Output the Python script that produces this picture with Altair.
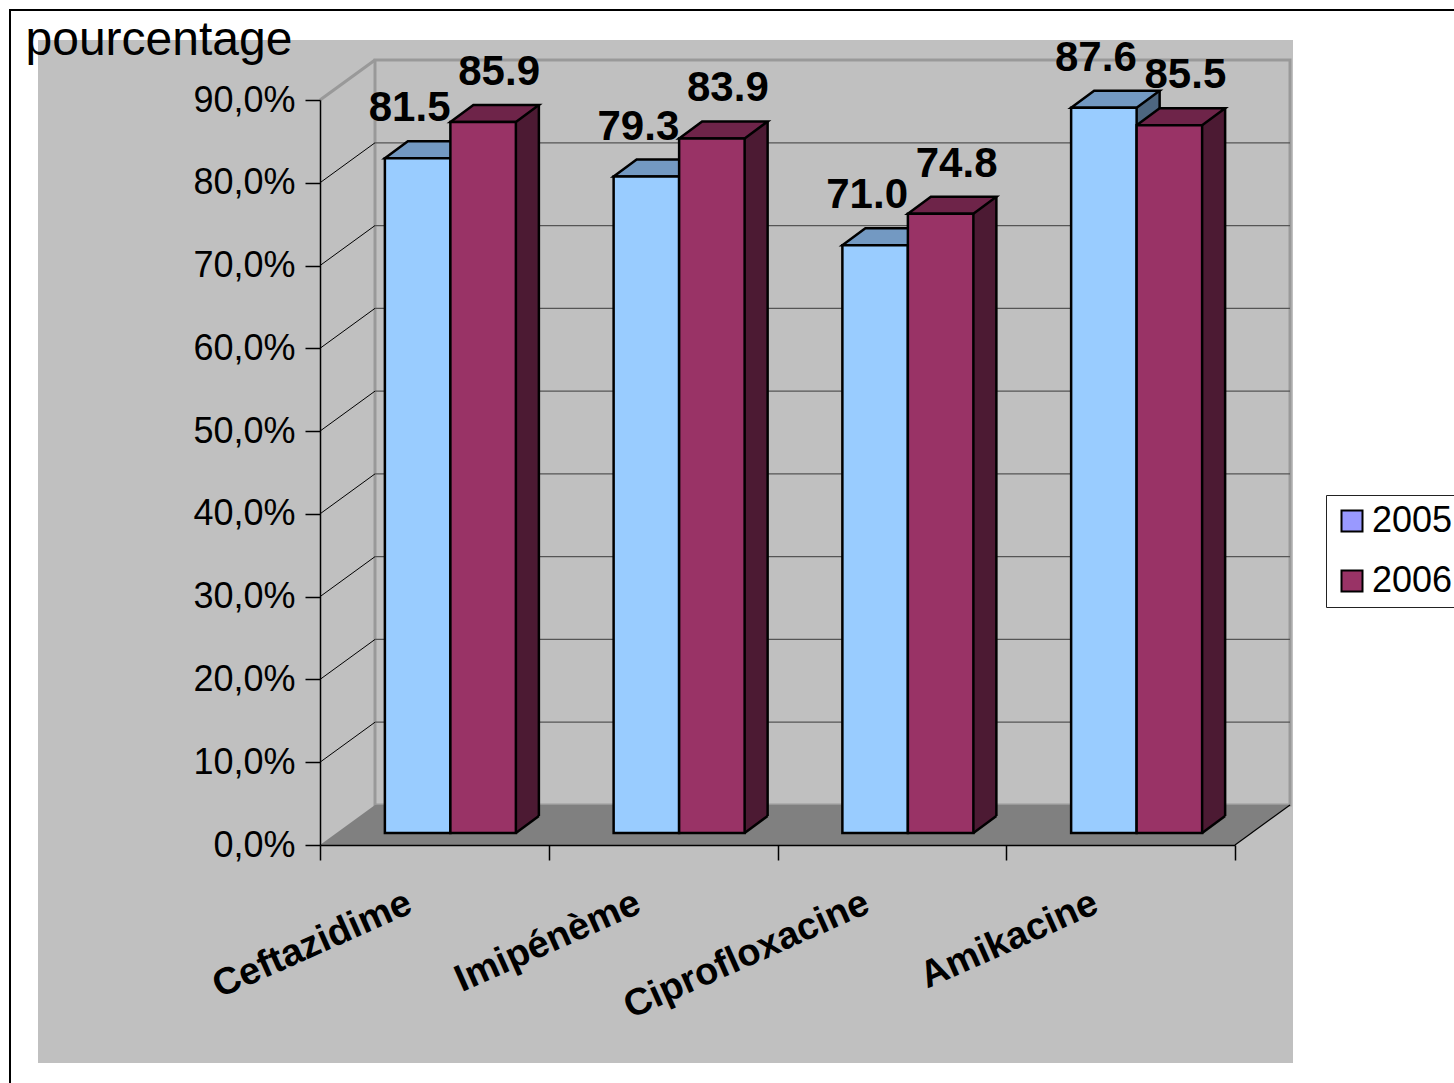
import altair as alt
import pandas as pd

# ---------------- data ----------------
categories = ["Ceftazidime", "Imipénème", "Ciprofloxacine", "Amikacine"]
years = ["2005", "2006"]
values_2005 = [81.5, 79.3, 71.0, 87.6]
values_2006 = [85.9, 83.9, 74.8, 85.5]
y_ticks = [0, 10, 20, 30, 40, 50, 60, 70, 80, 90]
wall_diagonals = [10, 20, 30, 40, 50, 60, 70, 80]

front_colors = ["#99CCFF", "#993366"]
top_colors = ["#7399C2", "#6E2449"]
side_colors = ["#4D6680", "#4C1A33"]
legend_colors = ["#9999FF", "#993366"]

rows = []
for i, c in enumerate(categories):
    rows.append({"cat": c, "year": years[0], "value": values_2005[i]})
    rows.append({"cat": c, "year": years[1], "value": values_2006[i]})
df = pd.DataFrame(rows)
df_diag = pd.DataFrame({"value": wall_diagonals})
df_top = pd.DataFrame({"value": [90]})
df_one = pd.DataFrame({"a": [0]})
df_years = pd.DataFrame({"year": years})

# ---------------- geometry (style) ----------------
FONT = "Liberation Sans"
W, H = 915, 745
PAD_L, PAD_T = 320, 100
TOTAL_W, TOTAL_H = 1454, 1083
DX, DY = 55, 40          # wall depth
BX, BY = 16, 12          # bar plane offset
SX, SY = 23, 17          # bar depth
BAR_W = 65.5
SW = 2.5
LABEL_DX = [-8, 16]      # label shift per series

y_axis = alt.Axis(
    values=y_ticks,
    labelExpr="replace(format(datum.value, '.1f'), '.', ',') + '%'",
    labelFontSize=36, labelColor="black", labelPadding=10, labelFont=FONT,
    tickSize=15, tickColor="black", tickWidth=1.5,
    domainColor="black", domainWidth=1.5, grid=False,
    title="pourcentage", titleAngle=0, titleAlign="left", titleBaseline="alphabetic",
    titleX=25 - PAD_L, titleY=54 - PAD_T, titleFontSize=48, titleFontWeight="normal",
    titleColor="black", titleFont=FONT, zindex=1,
)
x_axis = alt.Axis(
    labelAngle=-24, labelAlign="right", labelBaseline="middle",
    labelFontSize=38, labelFontWeight="bold", labelColor="black", labelFont=FONT,
    labelOffset=-25, labelPadding=41, labelLimit=500,
    tickSize=15, tickColor="black", tickWidth=1.5, tickBand="extent",
    domainColor="black", domainWidth=1.5, grid=False, title=None, zindex=1,
)

x_enc = alt.X("cat:N", sort=categories, scale=alt.Scale(paddingInner=0, paddingOuter=0), axis=x_axis)
y_enc = alt.Y("value:Q", scale=alt.Scale(domain=[0, 90], nice=False, zero=True), axis=y_axis)

# ---------------- frame ----------------
border = alt.Chart(df_one).mark_rect(fill="white", stroke="black", strokeWidth=2).encode(
    x=alt.value(10 - PAD_L), x2=alt.value(TOTAL_W - PAD_L + 20),
    y=alt.value(10 - PAD_T), y2=alt.value(TOTAL_H - PAD_T + 20))
gray_area = alt.Chart(df_one).mark_rect(fill="#C0C0C0").encode(
    x=alt.value(38 - PAD_L), x2=alt.value(1293 - PAD_L),
    y=alt.value(40 - PAD_T), y2=alt.value(1063 - PAD_T))
back_grid = alt.Chart(df_diag).mark_rule(color="#555555", strokeWidth=1.2, yOffset=-DY).encode(
    y=y_enc, x=alt.value(DX), x2=alt.value(W + DX))
back_wall = alt.Chart(df_top).mark_rect(fill=None, stroke="#999999", strokeWidth=3,
                                         yOffset=-DY, y2Offset=-DY).encode(
    y=y_enc, y2=alt.datum(0), x=alt.value(DX), x2=alt.value(W + DX))

uf = (W + DX) / 2
floor_path = (f"M -1 {DY/2/uf:.5f} L {(W-uf)/uf:.5f} {DY/2/uf:.5f} "
              f"L 1 {-DY/2/uf:.5f} L {(DX-uf)/uf:.5f} {-DY/2/uf:.5f} Z")
floor = alt.Chart(df_one).mark_point(shape=floor_path, filled=True, fill="#808080", opacity=1,
                                     size=(2 * uf) ** 2, strokeWidth=0).encode(
    x=alt.value(uf), y=alt.value(H - DY / 2))

diag_path = f"M -1 {DY/DX:.5f} L 1 {-DY/DX:.5f}"
left_diag = alt.Chart(df_diag).mark_point(shape=diag_path, filled=False, stroke="black",
                                          strokeWidth=1, opacity=1, size=DX ** 2,
                                          yOffset=-DY / 2).encode(
    y=y_enc, x=alt.value(DX / 2))
left_top = alt.Chart(df_top).mark_point(shape=diag_path, filled=False, stroke="#999999",
                                        strokeWidth=3, opacity=1, size=DX ** 2,
                                        yOffset=-DY / 2).encode(
    y=y_enc, x=alt.value(DX / 2))
right_floor = alt.Chart(df_one).mark_point(shape=diag_path, filled=False, stroke="black",
                                           strokeWidth=1.2, opacity=1, size=DX ** 2).encode(
    x=alt.value(W + DX / 2), y=alt.value(H - DY / 2))

# ---------------- 3D bars (one layer per year and face) ----------------
def year_data(k):
    return alt.Chart(df).transform_filter(f"datum.year == '{years[k]}'")


def front_center(k):
    return (k - 0.5) * BAR_W + BX


ut = SX / 2
tri_path = f"M -1 {-SY/2/ut:.5f} L -1 {SY/2/ut:.5f} L 1 {-SY/2/ut:.5f} Z"
tri_line = f"M -1 {SY/2/ut:.5f} L 1 {-SY/2/ut:.5f}"
uq = (BAR_W + SX) / 2
top_path = (f"M -1 {SY/2/uq:.5f} L {(BAR_W-uq)/uq:.5f} {SY/2/uq:.5f} "
            f"L 1 {-SY/2/uq:.5f} L {(SX-uq)/uq:.5f} {-SY/2/uq:.5f} Z")

sides, tris, bottom_edges, side_edges, tops, fronts, labels = [], [], [], [], [], [], []
for k in range(len(years)):
    fc = front_center(k)
    sides.append(year_data(k).mark_bar(
        width=SX, xOffset=fc + BAR_W / 2 + SX / 2, yOffset=-BY - SY, y2Offset=-BY - SY,
        strokeWidth=0, fill=side_colors[k]).encode(x=x_enc, y=y_enc, y2=alt.datum(0)))
    tris.append(year_data(k).mark_point(
        shape=tri_path, filled=True, opacity=1, size=SX ** 2, strokeWidth=0, fill=side_colors[k],
        xOffset=fc + BAR_W / 2 + SX / 2, yOffset=-BY - SY / 2).encode(x=x_enc, y=alt.datum(0)))
    bottom_edges.append(year_data(k).mark_point(
        shape=tri_line, filled=False, opacity=1, size=SX ** 2, stroke="black", strokeWidth=SW,
        xOffset=fc + BAR_W / 2 + SX / 2, yOffset=-BY - SY / 2).encode(x=x_enc, y=alt.datum(0)))
    side_edges.append(year_data(k).mark_rule(
        color="black", strokeWidth=SW, xOffset=fc + BAR_W / 2 + SX,
        yOffset=-BY - SY, y2Offset=-BY - SY).encode(x=x_enc, y=y_enc, y2=alt.datum(0)))
    tops.append(year_data(k).mark_point(
        shape=top_path, filled=True, opacity=1, size=(2 * uq) ** 2, fill=top_colors[k],
        stroke="black", strokeWidth=SW, xOffset=fc + SX / 2, yOffset=-BY - SY / 2).encode(
        x=x_enc, y=y_enc))
    fronts.append(year_data(k).mark_bar(
        width=BAR_W, fill=front_colors[k], stroke="black", strokeWidth=SW,
        xOffset=fc, yOffset=-BY, y2Offset=-BY).encode(x=x_enc, y=y_enc, y2=alt.datum(0)))
    labels.append(year_data(k).mark_text(
        font=FONT, fontSize=42, fontWeight="bold", color="black", baseline="middle",
        align="center", xOffset=fc + LABEL_DX[k], yOffset=-BY, dy=-50).encode(
        x=x_enc, y=y_enc, text=alt.Text("value:Q", format=".1f")))

legend_layer = alt.Chart(df_years).mark_point(shape="square", filled=True, size=0).encode(
    color=alt.Color("year:N", sort=years,
                    scale=alt.Scale(domain=years, range=legend_colors),
                    legend=alt.Legend(title=None, orient="none",
                                      legendX=1326 - PAD_L, legendY=495 - PAD_T,
                                      padding=8, fillColor="white", strokeColor="#222222",
                                      labelFontSize=36, labelFont=FONT, labelColor="black",
                                      labelOffset=2, labelLimit=400,
                                      symbolType="square", symbolSize=441,
                                      symbolStrokeColor="black", symbolStrokeWidth=2,
                                      symbolOpacity=1, rowPadding=24)))

chart = alt.layer(
    border, gray_area, back_wall, back_grid, floor, left_diag, left_top, right_floor,
    *sides, *tris, *bottom_edges, *side_edges, *tops, *fronts, *labels, legend_layer,
).properties(
    width=W, height=H,
    autosize=alt.AutoSizeParams(type="none"),
    padding={"left": PAD_L, "top": PAD_T, "right": TOTAL_W - PAD_L - W, "bottom": TOTAL_H - PAD_T - H},
    background="white",
).configure_view(strokeWidth=0).configure(font=FONT)

chart.save("out.html", embed_options={"renderer": "svg", "actions": False})
